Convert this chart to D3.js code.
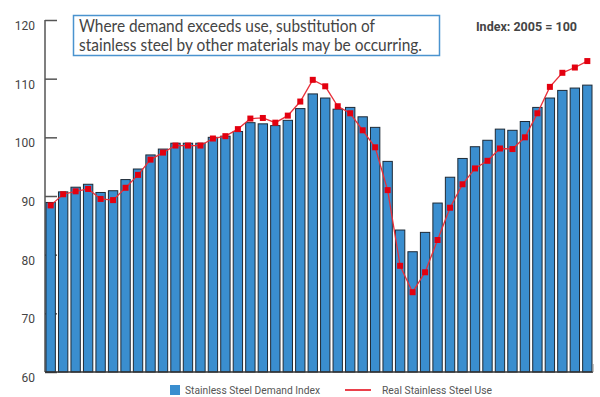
<html>

<head>
    <script src="https://cdnjs.cloudflare.com/ajax/libs/d3/7.8.5/d3.min.js"></script>
    <style>
        body { margin: 0; background: #fff; }
    </style>
</head>

<body>
    <script>
        // quarterly, 2002 Q1 .. 2012 Q4 (no x labels shown in the chart)
        const quarters = [
            '2002 Q1', '2002 Q2', '2002 Q3', '2002 Q4', '2003 Q1', '2003 Q2', '2003 Q3', '2003 Q4',
            '2004 Q1', '2004 Q2', '2004 Q3', '2004 Q4', '2005 Q1', '2005 Q2', '2005 Q3', '2005 Q4',
            '2006 Q1', '2006 Q2', '2006 Q3', '2006 Q4', '2007 Q1', '2007 Q2', '2007 Q3', '2007 Q4',
            '2008 Q1', '2008 Q2', '2008 Q3', '2008 Q4', '2009 Q1', '2009 Q2', '2009 Q3', '2009 Q4',
            '2010 Q1', '2010 Q2', '2010 Q3', '2010 Q4', '2011 Q1', '2011 Q2', '2011 Q3', '2011 Q4',
            '2012 Q1', '2012 Q2', '2012 Q3', '2012 Q4'
        ];

        const demandIndex = [
            88.9, 90.7, 91.5, 92.0, 90.6, 90.9, 92.8, 94.6, 97.0, 98.0, 99.0,
            99.0, 99.0, 100.0, 100.2, 101.0, 102.5, 102.3, 102.0, 102.9, 104.9, 107.4,
            106.7, 104.8, 105.1, 103.5, 101.7, 95.9, 84.2, 80.5, 83.8, 88.8, 93.2,
            96.4, 98.4, 99.5, 101.4, 101.2, 102.7, 105.1, 106.7, 108.0, 108.4, 108.9
        ];

        const realUse = [
            88.4, 90.3, 90.8, 91.2, 89.5, 89.3, 91.4, 93.6, 96.2, 97.4, 98.6,
            98.6, 98.6, 99.8, 100.2, 101.4, 103.2, 103.3, 102.5, 103.7, 106.1, 109.8,
            108.7, 105.3, 104.1, 101.2, 98.3, 91.0, 78.1, 73.6, 77.0, 82.5, 88.0,
            92.0, 94.7, 96.0, 98.1, 98.0, 100.0, 104.1, 108.6, 111.0, 111.9, 113.0
        ];

        const yTicks = [60, 70, 80, 90, 100, 110, 120];
        const seriesNames = ['Stainless Steel Demand Index', 'Real Stainless Steel Use'];
        const noteLines = [
            'Where demand exceeds use, substitution of',
            'stainless steel by other materials may be occurring.'
        ];
        const indexNote = 'Index: 2005 = 100';

        const width = 600;
        const height = 397;
        const plot = { left: 45, right: 593, top: 20, bottom: 372 };

        const svg = d3.select('body').append('svg')
            .attr('width', width)
            .attr('height', height);

        const x = d3.scaleBand()
            .domain(quarters)
            .range([plot.left - 0.5, plot.right + 0.5])
            .paddingInner(0.25)
            .paddingOuter(0.12);

        const y = d3.scaleLinear()
            .domain([60, 120])
            .range([plot.bottom, plot.top]);

        // y axis: ticks point inward, labels hang just below each tick
        const yAxis = svg.append('g')
            .attr('transform', `translate(${plot.left}, 0)`)
            .call(d3.axisRight(y).tickValues(yTicks).tickSize(12).tickFormat(''));
        yAxis.select('.domain').remove();
        yAxis.selectAll('.tick line').attr('stroke', '#555').attr('stroke-width', 1.5);

        svg.append('line')
            .attr('x1', plot.left).attr('x2', plot.left)
            .attr('y1', y(120)).attr('y2', plot.bottom)
            .attr('stroke', '#555')
            .attr('stroke-width', 1.5);

        svg.append('g')
            .selectAll('text')
            .data(yTicks)
            .enter().append('text')
            .attr('x', 35)
            .attr('y', d => y(d) + 10)
            .attr('text-anchor', 'end')
            .attr('font-family', 'Roboto')
            .attr('font-size', 12)
            .attr('fill', '#444')
            .text(d => d);

        // bars
        svg.append('g')
            .selectAll('rect')
            .data(demandIndex)
            .enter().append('rect')
            .attr('x', (d, i) => x(quarters[i]))
            .attr('y', d => y(d))
            .attr('width', x.bandwidth())
            .attr('height', d => plot.bottom - y(d))
            .attr('fill', '#3a8ecf')
            .attr('stroke', '#1e2a36')
            .attr('stroke-width', 1);

        // x axis line
        svg.append('line')
            .attr('x1', plot.left).attr('x2', plot.right)
            .attr('y1', plot.bottom).attr('y2', plot.bottom)
            .attr('stroke', '#333')
            .attr('stroke-width', 1.5);
        svg.append('line')
            .attr('x1', plot.right).attr('x2', plot.right)
            .attr('y1', plot.bottom).attr('y2', plot.bottom - 8)
            .attr('stroke', '#888')
            .attr('stroke-width', 1);

        // real use line + square markers
        const line = d3.line()
            .x((d, i) => x(quarters[i]) + x.bandwidth() / 2)
            .y(d => y(d));

        svg.append('path')
            .datum(realUse)
            .attr('d', line)
            .attr('fill', 'none')
            .attr('stroke', '#e8303a')
            .attr('stroke-width', 1.3);

        svg.append('g')
            .selectAll('rect')
            .data(realUse)
            .enter().append('rect')
            .attr('x', (d, i) => x(quarters[i]) + x.bandwidth() / 2 - 3)
            .attr('y', d => y(d) - 3)
            .attr('width', 6)
            .attr('height', 6)
            .attr('fill', '#e3000f');

        // note box
        svg.append('rect')
            .attr('x', 73.5).attr('y', 15.5)
            .attr('width', 366).attr('height', 40)
            .attr('fill', '#fff')
            .attr('stroke', '#4a93cf')
            .attr('stroke-width', 1.5);

        svg.append('g')
            .selectAll('text')
            .data(noteLines)
            .enter().append('text')
            .attr('x', 79)
            .attr('y', (d, i) => 31.5 + i * 19.5)
            .attr('font-family', 'Lato')
            .attr('font-size', 17)
            .attr('fill', '#444')
            .attr('textLength', (d, i) => i === 0 ? 296 : 343)
            .attr('lengthAdjust', 'spacingAndGlyphs')
            .text(d => d);

        svg.append('text')
            .attr('x', 577)
            .attr('y', 31)
            .attr('text-anchor', 'end')
            .attr('font-family', 'Roboto')
            .attr('font-weight', 'bold')
            .attr('font-size', 12.5)
            .attr('fill', '#444')
            .text(indexNote);

        // legend
        const legend = svg.append('g').attr('font-family', 'Roboto').attr('font-size', 11).attr('fill', '#555');
        legend.append('rect')
            .attr('x', 170).attr('y', 385)
            .attr('width', 10).attr('height', 10)
            .attr('fill', '#3a8ecf');
        legend.append('text')
            .attr('x', 185).attr('y', 394)
            .attr('textLength', 135)
            .attr('lengthAdjust', 'spacingAndGlyphs')
            .text(seriesNames[0]);
        legend.append('line')
            .attr('x1', 345).attr('x2', 371)
            .attr('y1', 390).attr('y2', 390)
            .attr('stroke', '#e3000f')
            .attr('stroke-width', 1.5);
        legend.append('text')
            .attr('x', 382).attr('y', 394)
            .attr('textLength', 110)
            .attr('lengthAdjust', 'spacingAndGlyphs')
            .text(seriesNames[1]);
    </script>
</body>

</html>
